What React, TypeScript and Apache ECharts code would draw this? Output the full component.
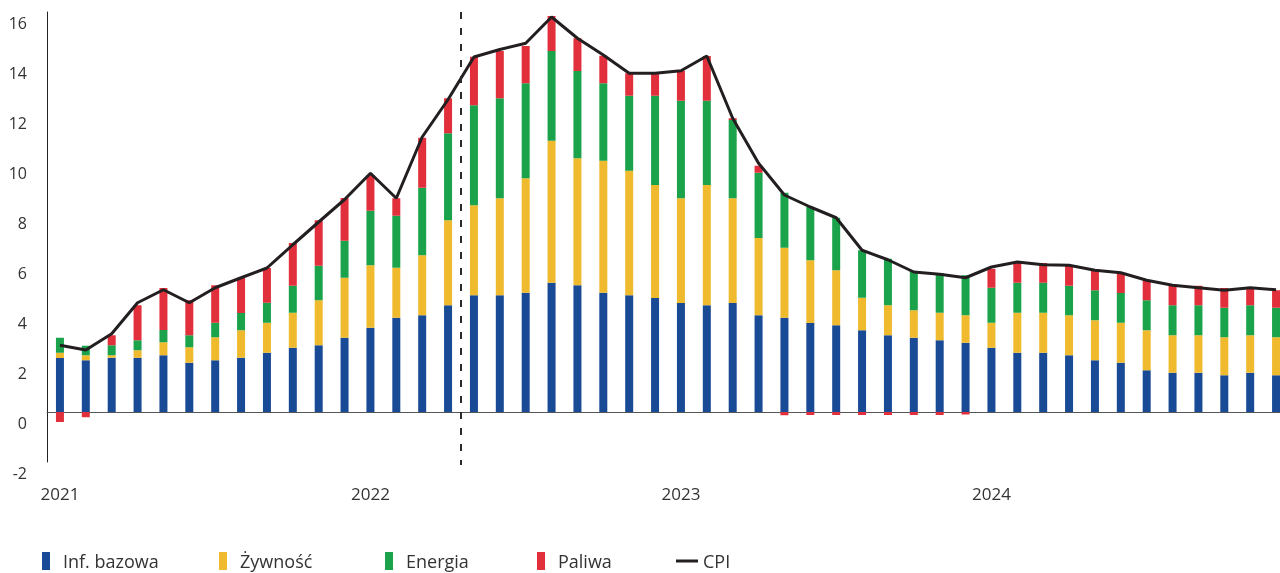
import React, { useEffect, useRef } from "react";
import * as echarts from "echarts";

const months = [
  "2021-01", "2021-02", "2021-03", "2021-04", "2021-05", "2021-06", "2021-07", "2021-08", "2021-09", "2021-10", "2021-11", "2021-12",
  "2022-01", "2022-02", "2022-03", "2022-04", "2022-05", "2022-06", "2022-07", "2022-08", "2022-09", "2022-10", "2022-11", "2022-12",
  "2023-01", "2023-02", "2023-03", "2023-04", "2023-05", "2023-06", "2023-07", "2023-08", "2023-09", "2023-10", "2023-11", "2023-12",
  "2024-01", "2024-02", "2024-03", "2024-04", "2024-05", "2024-06", "2024-07", "2024-08", "2024-09", "2024-10", "2024-11", "2024-12",
];

const coreInflation = [
  2.16, 2.07, 2.17, 2.17, 2.27, 1.97, 2.07, 2.17, 2.37, 2.57, 2.67, 2.97,
  3.37, 3.77, 3.87, 4.27, 4.67, 4.67, 4.77, 5.17, 5.07, 4.77, 4.67, 4.56,
  4.36, 4.27, 4.36, 3.87, 3.77, 3.56, 3.47, 3.27, 3.07, 2.97, 2.87, 2.77,
  2.57, 2.37, 2.37, 2.27, 2.07, 1.97, 1.67, 1.57, 1.57, 1.47, 1.57, 1.47,
];

const food = [
  0.21, 0.2, 0.1, 0.3, 0.52, 0.62, 0.92, 1.1, 1.2, 1.4, 1.8, 2.4,
  2.5, 2.0, 2.4, 3.4, 3.6, 3.88, 4.58, 5.68, 5.08, 5.28, 4.98, 4.52,
  4.19, 4.81, 4.19, 3.09, 2.8, 2.51, 2.2, 1.3, 1.2, 1.1, 1.1, 1.1,
  1.0, 1.6, 1.6, 1.6, 1.6, 1.6, 1.6, 1.5, 1.5, 1.52, 1.5, 1.52,
];

const energy = [
  0.6, 0.38, 0.4, 0.4, 0.49, 0.48, 0.58, 0.69, 0.8, 1.08, 1.38, 1.48,
  2.18, 2.08, 2.7, 3.48, 4.0, 4.0, 3.8, 3.59, 3.49, 3.1, 3.0, 3.57,
  3.9, 3.37, 3.13, 2.61, 2.2, 2.13, 2.1, 1.9, 1.86, 1.57, 1.59, 1.6,
  1.4, 1.2, 1.2, 1.18, 1.2, 1.19, 1.2, 1.2, 1.2, 1.18, 1.2, 1.18,
];

const fuel = [
  -0.4, -0.21, 0.4, 1.4, 1.68, 1.4, 1.5, 1.41, 1.39, 1.71, 1.82, 1.71,
  1.43, 0.7, 2.0, 1.4, 1.94, 1.89, 1.49, 1.4, 1.31, 1.1, 0.9, 0.87,
  1.2, 1.79, 0.07, 0.28, -0.13, -0.12, -0.12, -0.12, -0.12, -0.12, -0.12, -0.1,
  0.76, 0.79, 0.79, 0.79, 0.77, 0.8, 0.8, 0.78, 0.78, 0.79, 0.69, 0.7,
];

const cpi = [
  2.67, 2.48, 3.13, 4.37, 4.89, 4.37, 4.97, 5.37, 5.76, 6.69, 7.6, 8.5,
  9.55, 8.55, 11.0, 12.5, 14.2, 14.5, 14.75, 15.8, 14.95, 14.28, 13.55, 13.55,
  13.65, 14.24, 11.75, 9.95, 8.68, 8.2, 7.77, 6.47, 6.09, 5.6, 5.51, 5.37,
  5.8, 6.0, 5.89, 5.87, 5.67, 5.57, 5.27, 5.07, 4.97, 4.87, 4.97, 4.89,
];

const seriesNames = ["Inf. bazowa", "Żywność", "Energia", "Paliwa", "CPI"];
const colors = ["#184a96", "#f0ba2e", "#1aa34a", "#e12f3b", "#231f20"];
const forecastStartIndex = 16;

const FONT = "'Open Sans', sans-serif";

export default function App() {
  const ref = useRef<HTMLDivElement>(null);

  useEffect(() => {
    if (!ref.current) return;
    const chart = echarts.init(ref.current, null, { renderer: "svg" });

    const legendText = { fontFamily: FONT, fontSize: 18, lineHeight: 20, color: "#333" };

    const barLegend = (name: string, left: number) => ({
      data: [{ name, icon: "rect" }],
      left,
      top: 551,
      itemWidth: 8,
      itemHeight: 18,
      padding: 0,
      selectedMode: false,
      textStyle: { ...legendText, padding: [0, 0, 0, 8] },
    });

    const barSeries = (name: string, data: number[], color: string) => ({
      name,
      type: "bar",
      stack: "total",
      data,
      barWidth: 8,
      itemStyle: { color },
      emphasis: { disabled: true },
    });

    chart.setOption({
      animation: false,
      color: colors,
      grid: { left: 47, top: 12, width: 1242, height: 450, containLabel: false },
      xAxis: {
        type: "category",
        data: months,
        boundaryGap: true,
        axisTick: { show: false },
        axisLine: { show: true, onZero: true, lineStyle: { color: "#555", width: 1 } },
        axisLabel: {
          interval: 11,
          margin: 23,
          fontFamily: FONT,
          fontSize: 17,
          color: "#333",
          formatter: (v: string) => v.slice(0, 4),
        },
        splitLine: { show: false },
      },
      yAxis: {
        type: "value",
        min: -2,
        max: 16,
        interval: 2,
        splitLine: { show: false },
        axisTick: { show: false },
        axisLine: { show: true, lineStyle: { color: "#222", width: 1 } },
        axisLabel: {
          margin: 20,
          fontFamily: FONT,
          fontSize: 16,
          color: "#333",
          verticalAlign: "top",
          lineHeight: 21,
        },
      },
      legend: [
        barLegend(seriesNames[0], 42),
        barLegend(seriesNames[1], 219),
        barLegend(seriesNames[2], 385),
        barLegend(seriesNames[3], 537),
        {
          data: [{ name: seriesNames[4], icon: "path://M0,0L22,0L22,3L0,3Z" }],
          left: 676,
          top: 551,
          itemWidth: 22,
          itemHeight: 18,
          padding: 0,
          selectedMode: false,
          textStyle: { ...legendText, padding: [0, 0, 0, 0] },
        },
      ],
      series: [
        barSeries(seriesNames[0], coreInflation, colors[0]),
        barSeries(seriesNames[1], food, colors[1]),
        barSeries(seriesNames[2], energy, colors[2]),
        barSeries(seriesNames[3], fuel, colors[3]),
        {
          name: seriesNames[4],
          type: "line",
          data: cpi,
          symbol: "none",
          z: 5,
          lineStyle: { color: colors[4], width: 3 },
          itemStyle: { color: colors[4] },
          emphasis: { disabled: true },
        },
      ],
    });

    const xa = chart.convertToPixel({ xAxisIndex: 0 }, months[forecastStartIndex - 1]) as number;
    const xb = chart.convertToPixel({ xAxisIndex: 0 }, months[forecastStartIndex]) as number;
    const yTop = chart.convertToPixel({ yAxisIndex: 0 }, 16) as number;
    const yBottom = chart.convertToPixel({ yAxisIndex: 0 }, -2) as number;
    const xm = (xa + xb) / 2;
    chart.setOption({
      graphic: [
        {
          type: "line",
          z: 10,
          shape: { x1: xm, y1: yTop, x2: xm, y2: yBottom + 3 },
          style: { stroke: "#2b2b2b", lineWidth: 2, lineDash: [7, 9] },
        },
      ],
    });

    return () => chart.dispose();
  }, []);

  return (
    <div
      ref={ref}
      style={{ position: "fixed", left: 0, top: 0, width: 1300, height: 573 }}
    />
  );
}
